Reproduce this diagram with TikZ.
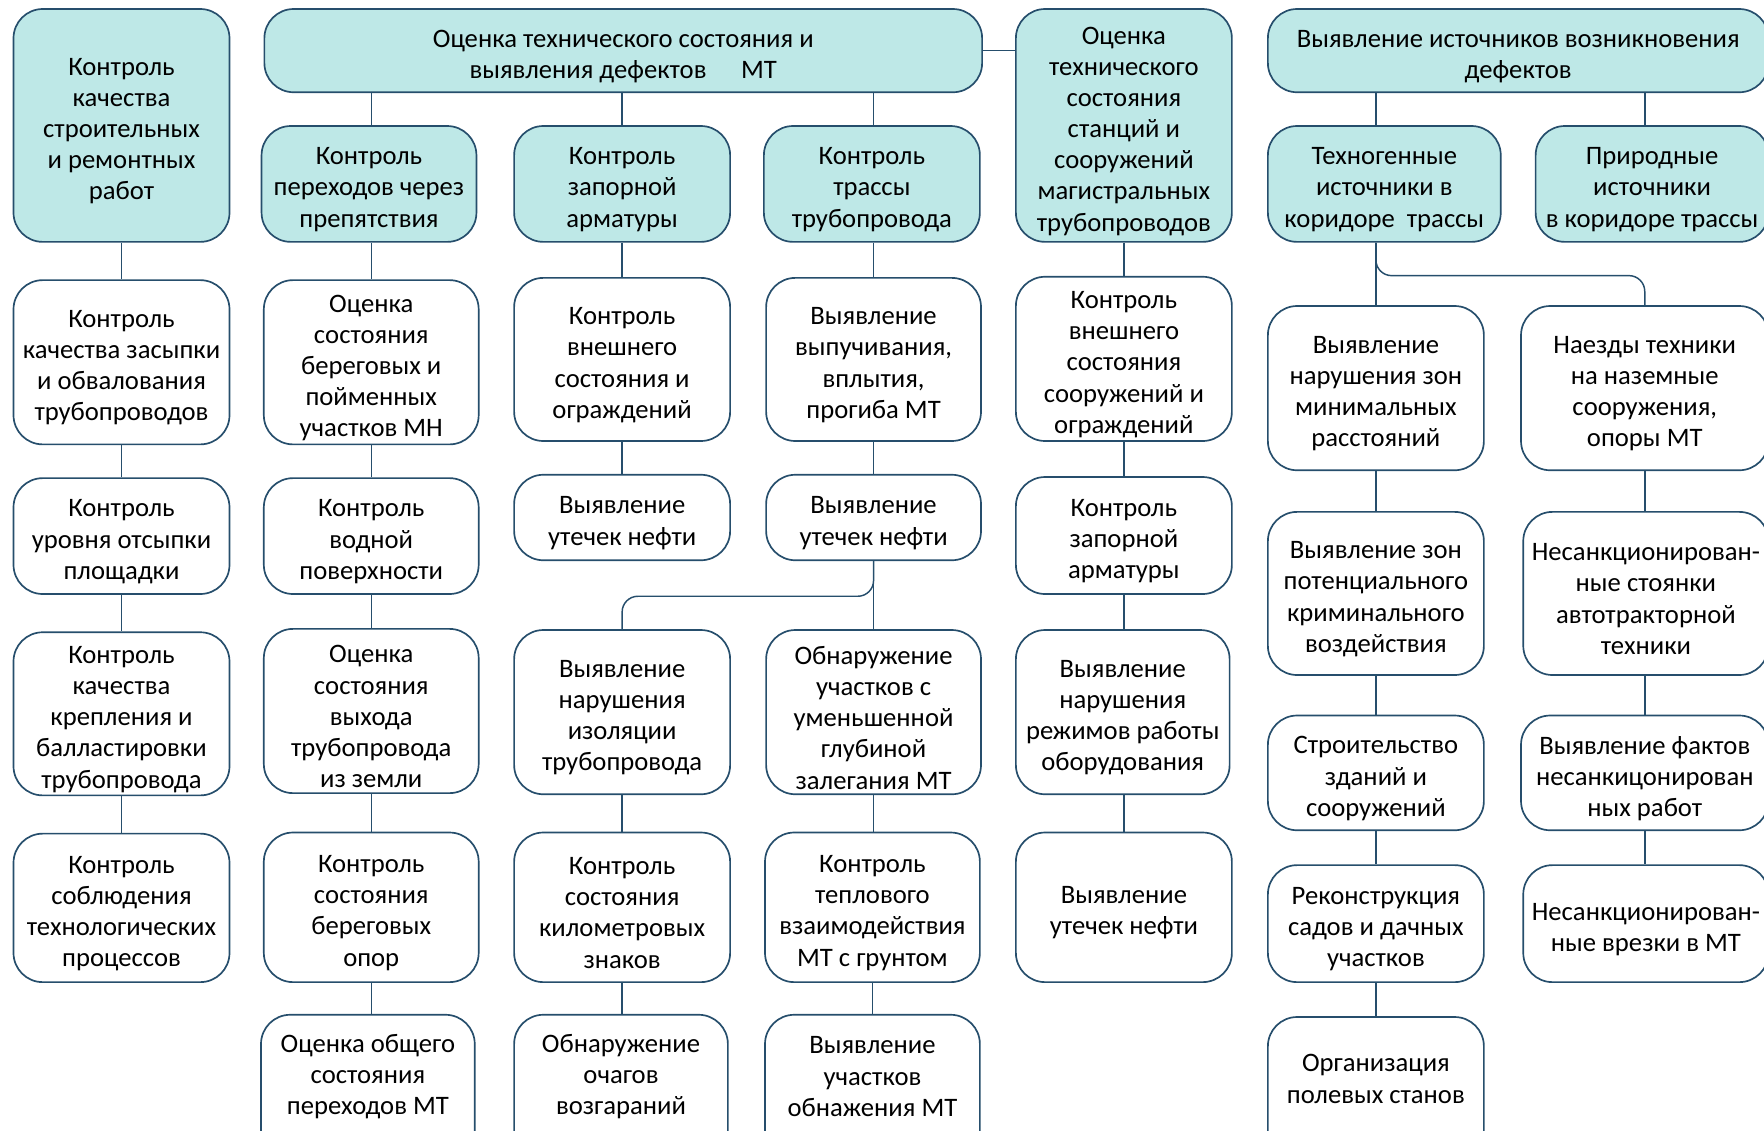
\documentclass[tikz,border=0pt]{standalone}
\usepackage{fontspec}
\setmainfont{Carlito}
\definecolor{tealfill}{RGB}{190,232,231}
\definecolor{edgeblue}{RGB}{38,78,108}
\tikzset{
  box/.style={draw=edgeblue, line width=1.5pt, rounded corners=26pt, fill=white,
    inner sep=0pt},
  hbox/.style={box, fill=tealfill},
  lbl/.style={align=center, inner sep=0pt, text=black, yshift=-5pt,
    font=\fontsize{23.7}{27.7}\selectfont},
  conn/.style={draw=edgeblue, line width=1.3pt},
}
% #1 style, #2 name, #3 position, #4 width, #5 height, #6 text
\newcommand{\bx}[6]{\node[#1, minimum width=#4pt, minimum height=#5pt, label={[lbl]center:{#6}}] (#2) at (#3) {};}
% bottom boxes running off the lower edge: text raised
\newcommand{\bxlow}[6]{\node[#1, minimum width=#4pt, minimum height=#5pt, label={[lbl, yshift=15pt]center:{#6}}] (#2) at (#3) {};}
\begin{document}
\begin{tikzpicture}[x=1pt,y=-1pt]
\useasboundingbox (0,0) rectangle (1568,1005);
% column 1
\bx{hbox}{A}{108,111.5}{192}{207}{Контроль\\качества\\строительных\\и ремонтных\\работ}
\bx{box}{A1}{108,322}{192}{146}{Контроль\\качества засыпки\\и обвалования\\трубопроводов}
\bx{box}{A2}{108,476.5}{192}{103}{Контроль\\уровня отсыпки\\площадки}
\bx{box}{A3}{108,634.5}{192}{145}{Контроль\\качества\\крепления и\\балластировки\\трубопровода}
\bx{box}{A4}{108,807}{192}{132}{Контроль\\соблюдения\\технологических\\процессов}
% top middle
\bx{hbox}{B}{554,45}{638}{74}{Оценка технического состояния и\\выявления дефектов\hspace{1.3em}МТ}
% column 2
\bx{hbox}{B1}{328,163.5}{191}{103}{Контроль\\переходов через\\препятствия}
\bx{box}{B1a}{330,322}{191}{146}{Оценка\\состояния\\береговых и\\пойменных\\участков МН}
\bx{box}{B1b}{330,476.5}{191}{103}{Контроль\\водной\\поверхности}
\bx{box}{B1c}{330,632}{191}{146}{Оценка\\состояния\\выхода\\трубопровода\\из земли}
\bx{box}{B1d}{330,806.5}{191}{133}{Контроль\\состояния\\береговых\\опор}
\bxlow{box}{B1e}{327,967}{190}{130}{Оценка общего\\состояния\\переходов МТ}
% column 3
\bx{hbox}{B2}{553,163.5}{192}{103}{Контроль\\запорной\\арматуры}
\bx{box}{B2a}{553,319.5}{192}{145}{Контроль\\внешнего\\состояния и\\ограждений}
\bx{box}{B2b}{553,460}{192}{76}{Выявление\\утечек нефти}
\bx{box}{B3c}{553,633}{192}{146}{Выявление\\нарушения\\изоляции\\трубопровода}
\bx{box}{B3d}{553,806.5}{192}{133}{Контроль\\состояния\\километровых\\знаков}
\bxlow{box}{B3e}{552,967}{190}{130}{Обнаружение\\очагов\\возгараний}
% column 4
\bx{hbox}{B3}{775,163.5}{192}{103}{Контроль\\трассы\\трубопровода}
\bx{box}{B3a}{776.5,319.5}{191}{145}{Выявление\\выпучивания,\\вплытия,\\прогиба МТ}
\bx{box}{B3b}{776.5,460}{191}{76}{Выявление\\утечек нефти}
\bx{box}{B3f}{776.5,633}{191}{146}{Обнаружение\\участков с\\уменьшенной\\глубиной\\залегания МТ}
\bx{box}{B3g}{775.5,806.5}{191}{133}{Контроль\\теплового\\взаимодействия\\МТ с грунтом}
\bxlow{box}{B3h}{775.5,967}{191}{130}{Выявление\\участков\\обнажения МТ}
% column 5
\bx{hbox}{C}{999,111.5}{192}{207}{Оценка\\технического\\состояния\\станций и\\сооружений\\магистральных\\трубопроводов}
\bx{box}{C1}{999,319}{192}{146}{Контроль\\внешнего\\состояния\\сооружений и\\ограждений}
\bx{box}{C2}{999,476}{192}{104}{Контроль\\запорной\\арматуры}
\bx{box}{C3}{998,633}{190}{146}{Выявление\\нарушения\\режимов работы\\оборудования}
\bx{box}{C4}{999,806.5}{192}{133}{Выявление\\утечек нефти}
% right part
\bx{hbox}{D}{1349.5,45}{445}{74}{Выявление источников возникновения\\дефектов}
\bx{hbox}{D1}{1230.5,163.5}{207}{103}{Техногенные\\источники в\\коридоре\ \ трассы}
\bx{hbox}{D2}{1468.5,163.5}{207}{103}{Природные\\источники\\в коридоре трассы}
\bx{box}{D1a}{1223,345}{192}{146}{Выявление\\нарушения зон\\минимальных\\расстояний}
\bx{box}{D1b}{1223,527.5}{192}{145}{Выявление зон\\потенциального\\криминального\\воздействия}
\bx{box}{D1c}{1223,687}{192}{102}{Строительство\\зданий и\\сооружений}
\bx{box}{D1d}{1223,821}{192}{104}{Реконструкция\\садов и дачных\\участков}
\bxlow{box}{D1e}{1223,969}{192}{130}{Организация\\полевых станов}
\bx{box}{E1}{1462,345}{220}{146}{Наезды техники\\на наземные\\сооружения,\\опоры МТ}
\bx{box}{E2}{1463,527.5}{218}{145}{Несанкционирован-\\ные стоянки\\автотракторной\\техники}
\bx{box}{E3}{1462,687}{220}{102}{Выявление фактов\\несанкицонирован\\ных работ}
\bx{box}{E4}{1463,821}{218}{104}{Несанкционирован-\\ные врезки в МТ}
% connectors
\draw[conn] (A.south) -- (A1.north);
\draw[conn] (A1.south) -- (A2.north);
\draw[conn] (A2.south) -- (A3.north);
\draw[conn] (A3.south) -- (A4.north);
\draw[conn] (B.east) -- (C.west |- B.east);
\draw[conn] (B1a.north |- B.south) -- (B1a.north |- B1.north);
\draw[conn] (B2.north |- B.south) -- (B2.north);
\draw[conn] (B3a.north |- B.south) -- (B3a.north |- B3.north);
\draw[conn] (B1a.north |- B1.south) -- (B1a.north);
\draw[conn] (B1a.south) -- (B1b.north);
\draw[conn] (B1b.south) -- (B1c.north);
\draw[conn] (B1c.south) -- (B1d.north);
\draw[conn] (B1d.south) -- (B1d.south |- B1e.north);
\draw[conn] (B2.south) -- (B2a.north);
\draw[conn] (B2a.south) -- (B2b.north);
\draw[conn] (B3c.south) -- (B3d.north);
\draw[conn] (B3d.south) -- (B3d.south |- B3e.north);
\draw[conn] (B3a.north |- B3.south) -- (B3a.north);
\draw[conn] (B3a.south) -- (B3b.north);
\draw[conn] (B3b.south) -- (B3f.north);
\coordinate (j1) at (665,530);
\draw[conn, rounded corners=14pt] (B3b.south) |- (j1) -| (B3c.north);
\draw[conn] (B3f.south) -- (B3f.south |- B3g.north);
\draw[conn] (B3g.south) -- (B3h.north);
\draw[conn] (C.south) -- (C1.north);
\draw[conn] (C1.south) -- (C2.north);
\draw[conn] (C2.south) -- (C2.south |- C3.north);
\draw[conn] (C2.south |- C3.south) -- (C4.north);
\draw[conn] (D1a.north |- D.south) -- (D1a.north |- D1.north);
\draw[conn] (E1.north |- D.south) -- (E1.north |- D2.north);
\draw[conn] (D1a.north |- D1.south) -- (D1a.north);
\coordinate (j2) at (1340,245);
\draw[conn, rounded corners=14pt] (D1a.north |- D1.south) |- (j2) -| (E1.north);
\draw[conn] (D1a.south) -- (D1b.north);
\draw[conn] (D1b.south) -- (D1c.north);
\draw[conn] (D1c.south) -- (D1d.north);
\draw[conn] (D1d.south) -- (D1e.north);
\draw[conn] (E1.south) -- (E1.south |- E2.north);
\draw[conn] (E1.south |- E2.south) -- (E1.south |- E3.north);
\draw[conn] (E3.south) -- (E3.south |- E4.north);
\end{tikzpicture}
\end{document}
